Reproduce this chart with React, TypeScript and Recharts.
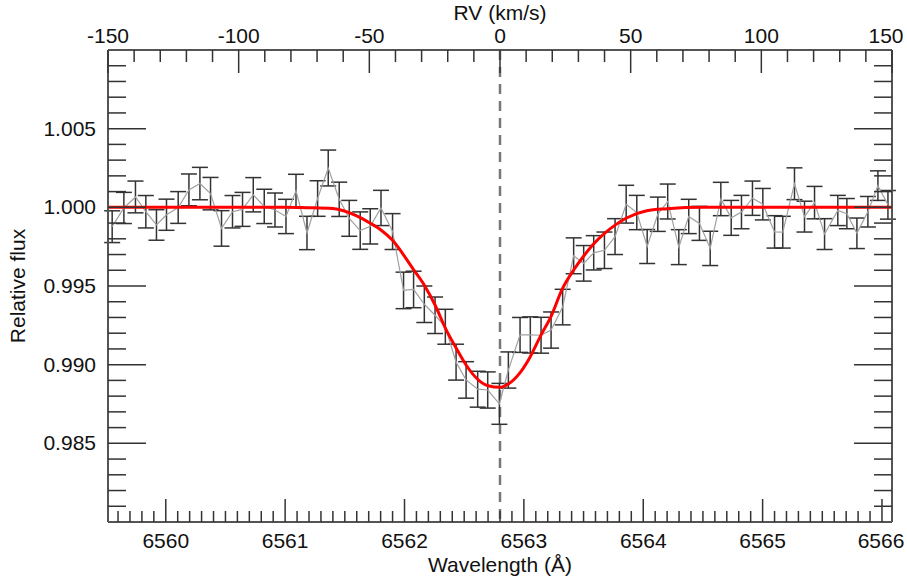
import React from "react";
import { LineChart, Line, XAxis, YAxis, ErrorBar, ReferenceLine } from "recharts";

// observed spectrum (wavelength in Å, relative flux, 1-sigma error)
const wavelengths = [
  6559.551, 6559.649, 6559.746, 6559.833, 6559.922, 6560.006, 6560.104, 6560.194, 6560.286, 6560.375,
  6560.467, 6560.559, 6560.643, 6560.733, 6560.825, 6560.915, 6561.007, 6561.091, 6561.183, 6561.272,
  6561.361, 6561.453, 6561.537, 6561.629, 6561.713, 6561.803, 6561.9, 6561.992, 6562.076, 6562.166,
  6562.256, 6562.342, 6562.432, 6562.516, 6562.613, 6562.697, 6562.795, 6562.87, 6562.968, 6563.054,
  6563.144, 6563.228, 6563.325, 6563.417, 6563.501, 6563.585, 6563.675, 6563.764, 6563.857, 6563.946,
  6564.033, 6564.122, 6564.205, 6564.298, 6564.381, 6564.471, 6564.561, 6564.65, 6564.737, 6564.823,
  6564.915, 6565.002, 6565.1, 6565.169, 6565.267, 6565.351, 6565.435, 6565.519, 6565.63, 6565.706,
  6565.79, 6565.882, 6565.966, 6566.05,
];
const flux = [
  0.99877, 0.99996, 1.00066, 0.99972, 0.99888, 0.99953, 0.99999, 1.00111, 1.00151, 1.00087,
  0.99866, 0.99972, 0.99987, 1.0008, 1.00006, 0.99983, 0.99942, 1.00106, 0.99837, 1.00056,
  1.0025, 1.00051, 0.9993, 0.99852, 0.99879, 0.99996, 0.99846, 0.99472, 0.99478, 0.99384,
  0.99314, 0.99241, 0.99016, 0.98903, 0.98844, 0.98839, 0.98751, 0.98966, 0.99189, 0.99189,
  0.99187, 0.9922, 0.99366, 0.99692, 0.99644, 0.99711, 0.99727, 0.99814, 1.0002, 0.99967,
  0.99751, 0.99956, 1.00037, 0.99747, 0.99942, 0.99898, 0.99739, 1.00053, 0.99933, 0.9997,
  1.00058, 1.0002, 0.99844, 0.99842, 1.0015, 0.99941, 1.0003, 0.9983, 0.9998, 0.9996,
  0.99835, 0.99972, 1.00138, 1.00016,
];
const fluxErr = [
  0.00101, 0.00099, 0.00101, 0.00103, 0.00097, 0.00099, 0.00101, 0.00101, 0.00103, 0.00103,
  0.00113, 0.00103, 0.00108, 0.00109, 0.00109, 0.00108, 0.00109, 0.00104, 0.00106, 0.00113,
  0.00114, 0.00109, 0.00114, 0.00119, 0.00112, 0.00112, 0.00114, 0.00116, 0.00116, 0.00116,
  0.00116, 0.00111, 0.00114, 0.00116, 0.00114, 0.00115, 0.0013, 0.00115, 0.00111, 0.00115,
  0.00114, 0.00115, 0.00113, 0.00114, 0.00113, 0.00109, 0.00116, 0.00114, 0.0012, 0.00109,
  0.00108, 0.00109, 0.00111, 0.00111, 0.00109, 0.00108, 0.00109, 0.00106, 0.00111, 0.00106,
  0.00109, 0.001, 0.00103, 0.00101, 0.00101, 0.00098, 0.00103, 0.00098, 0.00096, 0.00096,
  0.00097, 0.00097, 0.00094, 0.00091,
];

// fitted absorption profile (red)
const fitWave = [
  6559.52, 6560.5, 6561.0, 6561.2, 6561.4, 6561.6, 6561.71, 6561.8, 6561.9, 6561.99,
  6562.07, 6562.17, 6562.26, 6562.34, 6562.43, 6562.52, 6562.61, 6562.7, 6562.8, 6562.87,
  6562.97, 6563.05, 6563.14, 6563.23, 6563.32, 6563.42, 6563.5, 6563.58, 6563.68, 6563.77,
  6563.86, 6564.03, 6564.2, 6564.5, 6565.0, 6566.08,
];
const fitFlux = [
  1.0, 1.0, 1.0, 0.99998, 0.99992, 0.99945, 0.999, 0.99858, 0.9979, 0.997,
  0.9961, 0.995, 0.99373, 0.99236, 0.99109, 0.98993, 0.98909, 0.98866, 0.98856, 0.98877,
  0.98951, 0.99046, 0.99183, 0.9931, 0.99478, 0.99605, 0.99689, 0.99763, 0.99837, 0.9989,
  0.99932, 0.99978, 0.99991, 1.0, 1.0, 1.0,
];

const restRv = 0;
const waveDomain: [number, number] = [6559.516, 6566.084];
const rvDomain: [number, number] = [-150, 150];
const fluxDomain: [number, number] = [0.98, 1.01];

const waveMajor = [6560, 6561, 6562, 6563, 6564, 6565, 6566];
const rvMajor = [-150, -100, -50, 0, 50, 100, 150];
const fluxMajor = [0.985, 0.99, 0.995, 1.0, 1.005];

const waveTicks: number[] = [];
for (let i = 65596; i <= 65660; i++) waveTicks.push(i / 10);
const rvTicks: number[] = [];
for (let i = -15; i <= 15; i++) rvTicks.push(i * 10);
const fluxTicks: number[] = [];
for (let i = 981; i <= 1009; i++) fluxTicks.push(i / 1000);

const spectrum = wavelengths.map((w, i) => ({ wave: w, flux: flux[i], err: fluxErr[i] }));
const fit = fitWave.map((w, i) => ({ wave: w, fit: fitFlux[i] }));
// anchors the velocity axis so it gets a scale (not drawn)
const rvFrame = rvDomain.map((v) => ({ rv: v, frame: 1.0 }));

// layout
const W = 907;
const H = 579;
const LEFT = 108;
const RIGHT = 892;
const TOP = 50;
const BOTTOM = 522;
const FONT = "'Liberation Sans', Arial, Helvetica, sans-serif";
const FS = 21;
const TICK_COLOR = "#333";
const AXIS_COLOR = "#555";

const isMajor = (v: number, majors: number[]) => majors.some((m) => Math.abs(m - v) < 1e-7);

function BottomTick(props: any) {
  const { x, payload } = props;
  const major = isMajor(payload.value, waveMajor);
  return (
    <g>
      <line x1={x} x2={x} y1={BOTTOM} y2={BOTTOM - (major ? 23 : 11)} stroke={TICK_COLOR} strokeWidth={1.5} />
      {major && (
        <text x={Math.min(x, W - 26)} y={BOTTOM + 26} textAnchor="middle" fontFamily={FONT} fontSize={FS} fill="#111">
          {payload.value}
        </text>
      )}
    </g>
  );
}

function TopTick(props: any) {
  const { x, payload } = props;
  const major = isMajor(payload.value, rvMajor);
  return (
    <g>
      <line x1={x} x2={x} y1={TOP} y2={TOP + (major ? 23 : 12)} stroke={TICK_COLOR} strokeWidth={1.5} />
      {major && (
        <text x={Math.min(x, W - 21)} y={TOP - 7} textAnchor="middle" fontFamily={FONT} fontSize={FS} fill="#111">
          {payload.value}
        </text>
      )}
    </g>
  );
}

function LeftTick(props: any) {
  const { y, payload } = props;
  const major = isMajor(payload.value, fluxMajor);
  return (
    <g>
      <line x1={LEFT} x2={LEFT + (major ? 38 : 18)} y1={y} y2={y} stroke={TICK_COLOR} strokeWidth={1.5} />
      {major && (
        <text x={LEFT - 12} y={y + 7} textAnchor="end" fontFamily={FONT} fontSize={FS} fill="#111">
          {payload.value.toFixed(3)}
        </text>
      )}
    </g>
  );
}

function RightTick(props: any) {
  const { y, payload } = props;
  const major = isMajor(payload.value, fluxMajor);
  return <line x1={RIGHT} x2={RIGHT - (major ? 38 : 18)} y1={y} y2={y} stroke={TICK_COLOR} strokeWidth={1.5} />;
}

export default function App() {
  return (
    <div style={{ position: "absolute", left: 0, top: 0, width: W, height: H, background: "#fff" }}>
      <LineChart width={W} height={H} margin={{ top: 0, right: 0, bottom: 0, left: 0 }}>
        <XAxis
          xAxisId="wave"
          type="number"
          dataKey="wave"
          domain={waveDomain}
          allowDataOverflow
          ticks={waveTicks}
          interval={0}
          tick={BottomTick}
          tickLine={false}
          axisLine={{ stroke: AXIS_COLOR, strokeWidth: 2 }}
          height={H - BOTTOM}
          label={{ value: "Wavelength (Å)", position: "insideBottom", offset: 7, fontFamily: FONT, fontSize: FS, fill: "#111" }}
        />
        <XAxis
          xAxisId="rv"
          orientation="top"
          type="number"
          dataKey="rv"
          domain={rvDomain}
          allowDataOverflow
          ticks={rvTicks}
          interval={0}
          tick={TopTick}
          tickLine={false}
          axisLine={{ stroke: AXIS_COLOR, strokeWidth: 2 }}
          height={TOP}
          label={{ value: "RV (km/s)", position: "insideTop", offset: 5, fontFamily: FONT, fontSize: FS, fill: "#111" }}
        />
        <YAxis
          yAxisId="flux"
          type="number"
          domain={fluxDomain}
          allowDataOverflow
          ticks={fluxTicks}
          interval={0}
          tick={LeftTick}
          tickLine={false}
          axisLine={{ stroke: AXIS_COLOR, strokeWidth: 2 }}
          width={LEFT}
          label={{ value: "Relative flux", angle: -90, position: "insideLeft", offset: 18, style: { textAnchor: "middle" }, fontFamily: FONT, fontSize: FS, fill: "#111" }}
        />
        <YAxis
          yAxisId="fluxRight"
          orientation="right"
          type="number"
          domain={fluxDomain}
          allowDataOverflow
          ticks={fluxTicks}
          interval={0}
          tick={RightTick}
          tickLine={false}
          axisLine={{ stroke: AXIS_COLOR, strokeWidth: 2 }}
          width={W - RIGHT}
        />
        <Line
          xAxisId="rv"
          yAxisId="flux"
          data={rvFrame}
          dataKey="frame"
          stroke="none"
          dot={false}
          activeDot={false}
          isAnimationActive={false}
        />
        <ReferenceLine xAxisId="rv" yAxisId="flux" x={restRv} stroke="#777" strokeWidth={2.5} strokeDasharray="10 7" />
        <Line
          xAxisId="wave"
          yAxisId="flux"
          data={spectrum}
          dataKey="flux"
          stroke="#a0a0a0"
          strokeWidth={1.2}
          dot={false}
          isAnimationActive={false}
        >
          <ErrorBar dataKey="err" direction="y" width={8} stroke="#333" strokeWidth={1.5} isAnimationActive={false} />
        </Line>
        <Line
          xAxisId="wave"
          yAxisId="flux"
          data={fit}
          dataKey="fit"
          type="monotone"
          stroke="#ff0000"
          strokeWidth={3}
          dot={false}
          isAnimationActive={false}
        />
      </LineChart>
    </div>
  );
}
